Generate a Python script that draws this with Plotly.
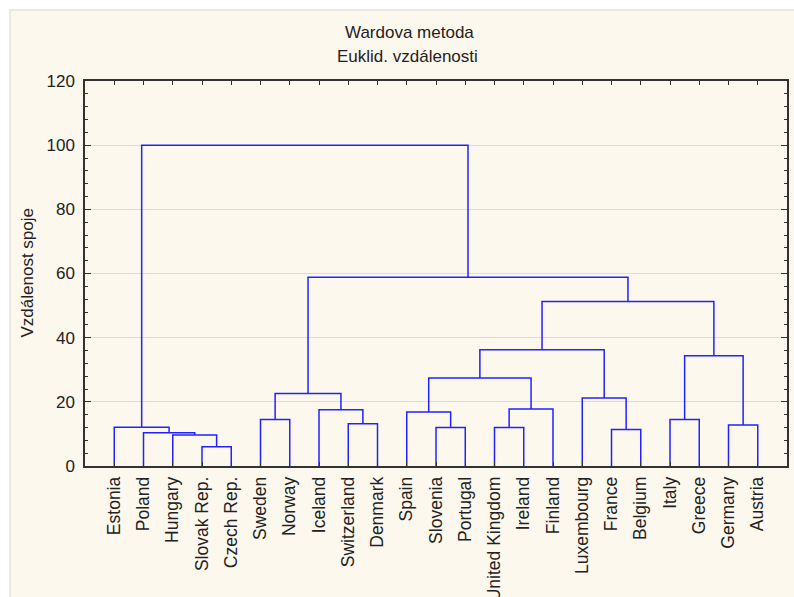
import plotly.graph_objects as go

# ---- data ----
leaves = ["Estonia", "Poland", "Hungary", "Slovak Rep.", "Czech Rep.",
          "Sweden", "Norway", "Iceland", "Switzerland", "Denmark",
          "Spain", "Slovenia", "Portugal", "United Kingdom", "Ireland", "Finland",
          "Luxembourg", "France", "Belgium", "Italy", "Greece", "Germany", "Austria"]

# merges: new cluster id, left member, right member, linkage distance
link_id = ["A", "B", "C", "D", "E", "F", "G", "H", "I", "J", "K",
           "L", "M", "N", "O", "P", "Q", "R", "S", "T", "U", "V"]
link_left = ["Slovak Rep.", "Hungary", "Poland", "Estonia", "Sweden", "Switzerland",
             "Iceland", "E", "Slovenia", "Spain", "United Kingdom", "K", "France",
             "Luxembourg", "J", "O", "Italy", "Germany", "Q", "P", "H", "D"]
link_right = ["Czech Rep.", "A", "B", "C", "Norway", "Denmark", "F", "G", "Portugal",
              "I", "Ireland", "Finland", "Belgium", "M", "L", "N", "Greece", "Austria",
              "R", "S", "T", "U"]
link_height = [6.0, 9.7, 10.4, 12.1, 14.5, 13.2, 17.5, 22.6, 12.0, 16.8, 12.0,
               17.8, 11.4, 21.2, 27.4, 36.2, 14.5, 12.8, 34.4, 51.3, 58.8, 100.0]

y_ticks = [0, 20, 40, 60, 80, 100, 120]

# ---- build dendrogram segments ----
pos = {name: (i, 0.0) for i, name in enumerate(leaves)}
xs, ys = [], []
for cid, a, b, h in zip(link_id, link_left, link_right, link_height):
    xa, ya = pos[a]
    xb, yb = pos[b]
    xs += [xa, xa, xb, xb, None]
    ys += [ya, h, h, yb, None]
    pos[cid] = ((xa + xb) / 2.0, h)

fig = go.Figure()
fig.add_trace(go.Scatter(x=xs, y=ys, mode="lines",
                         line=dict(color="#2222ff", width=1.5),
                         hoverinfo="skip", showlegend=False))

font_family = "Liberation Sans, Arial, sans-serif"
txt_col = "#222222"

W, H = 794, 597
L, R, T, B = 85, 7, 81, 131
pw, ph = W - L - R, H - T - B

def px_to_paper_x(px):
    return (px - L) / pw

def px_to_paper_y(py):
    return (H - B - py) / ph

shapes = [
    dict(type="rect", xref="paper", yref="paper", layer="below",
         x0=px_to_paper_x(10), x1=px_to_paper_x(W + 5),
         y0=px_to_paper_y(H + 5), y1=px_to_paper_y(10),
         fillcolor="#fdf8ee", line=dict(color="#e4e2da", width=1.5)),
]

annotations = [
    dict(text="Wardova metoda", xref="paper", yref="paper",
         x=px_to_paper_x(409), y=px_to_paper_y(33), showarrow=False,
         xanchor="center", yanchor="middle",
         font=dict(family=font_family, size=17, color=txt_col)),
    dict(text="Euklid. vzdálenosti", xref="paper", yref="paper",
         x=px_to_paper_x(407), y=px_to_paper_y(57), showarrow=False,
         xanchor="center", yanchor="middle",
         font=dict(family=font_family, size=17, color=txt_col)),
    dict(text="Vzdálenost spoje", xref="paper", yref="paper",
         x=px_to_paper_x(27), y=0.5, showarrow=False, textangle=-90,
         xanchor="center", yanchor="middle",
         font=dict(family=font_family, size=17, color=txt_col)),
]

fig.update_layout(
    width=W, height=H,
    margin=dict(l=L, r=R, t=T, b=B, pad=0),
    paper_bgcolor="white",
    plot_bgcolor="white",
    shapes=shapes,
    annotations=annotations,
    font=dict(family=font_family, size=17, color=txt_col),
    xaxis=dict(
        range=[-1, len(leaves)],
        tickmode="array", tickvals=list(range(len(leaves))), ticktext=leaves,
        tickangle=-90, ticks="inside", ticklen=4, tickcolor="#333333",
        showline=True, linecolor="#333333", linewidth=1.5, mirror="allticks",
        showgrid=False, zeroline=False, automargin=False,
        tickfont=dict(family=font_family, size=17.5, color=txt_col),
        ticklabelstandoff=2,
    ),
    yaxis=dict(
        range=[0, 120],
        tickmode="array", tickvals=y_ticks,
        ticks="inside", ticklen=6, tickcolor="#333333",
        minor=dict(dtick=4, ticks="inside", ticklen=3, tickcolor="#333333", showgrid=False),
        showline=True, linecolor="#333333", linewidth=1.5, mirror="allticks",
        showgrid=True, gridcolor="#dcdcdc", gridwidth=1,
        zeroline=False, automargin=False,
        tickfont=dict(family=font_family, size=17, color=txt_col),
        ticklabelstandoff=5,
    ),
)

# remove the default 8px page margin so the figure fills the window exactly
fig.write_html("out.html",
               config={"displayModeBar": False},
               post_script="document.body.style.margin='0';document.body.style.overflow='hidden';")
